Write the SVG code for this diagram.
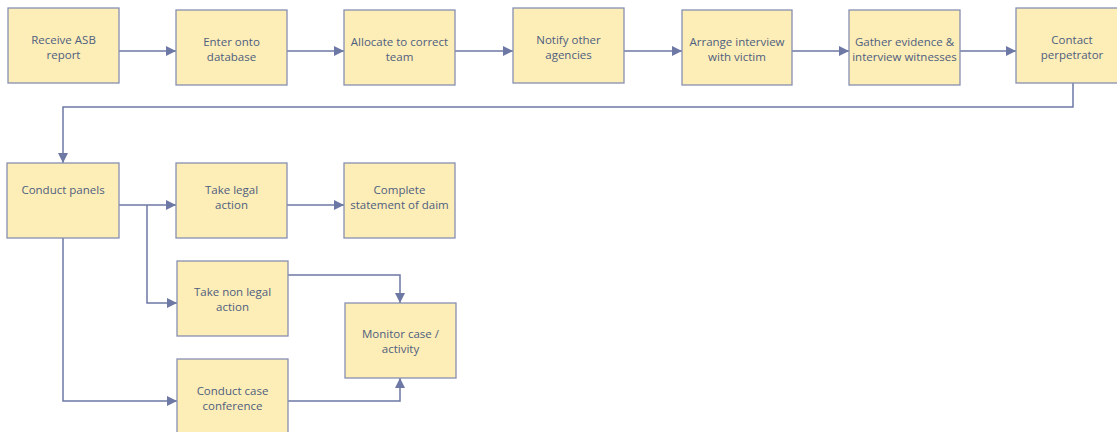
<svg xmlns="http://www.w3.org/2000/svg" width="1117" height="432" viewBox="0 0 1117 432">
<style>
.box{fill:#fdedb6;stroke:#8790b3;stroke-width:1.3}
.t{font-family:"Open Sans","Noto Sans",sans-serif;font-size:11.5px;fill:#4e6080;text-anchor:middle}
.c{fill:none;stroke:#6d78a4;stroke-width:1.5}
</style>
<defs>
<marker id="ah" viewBox="0 0 10 10" refX="10" refY="5" markerWidth="10" markerHeight="10" markerUnits="userSpaceOnUse" orient="auto">
<path d="M0,0 L10,5 L0,10 Z" fill="#6d78a4"/>
</marker>
</defs>
<rect width="1117" height="432" fill="#ffffff"/>
<g id="connectors">
<path class="c" d="M119,51 H176" marker-end="url(#ah)"/>
<path class="c" d="M287,51 H344" marker-end="url(#ah)"/>
<path class="c" d="M455,51 H513" marker-end="url(#ah)"/>
<path class="c" d="M624,51 H682" marker-end="url(#ah)"/>
<path class="c" d="M792,51 H849" marker-end="url(#ah)"/>
<path class="c" d="M960,51 H1016" marker-end="url(#ah)"/>
<path class="c" d="M1073,83 V107 H63 V163" marker-end="url(#ah)"/>
<path class="c" d="M119,205 H176" marker-end="url(#ah)"/>
<path class="c" d="M147,205 V303 H177" marker-end="url(#ah)"/>
<path class="c" d="M287,205 H344" marker-end="url(#ah)"/>
<path class="c" d="M63,238 V401 H177" marker-end="url(#ah)"/>
<path class="c" d="M288,275 H400 V303" marker-end="url(#ah)"/>
<path class="c" d="M288,401 H400 V378" marker-end="url(#ah)"/>
</g>
<g id="n1"><rect class="box" x="8" y="8" width="111" height="75"/><text class="t" x="63.5" y="44">Receive ASB</text><text class="t" x="63.5" y="59">report</text></g>
<g id="n2"><rect class="box" x="176" y="10" width="111" height="75"/><text class="t" x="231.5" y="46">Enter onto</text><text class="t" x="231.5" y="61">database</text></g>
<g id="n3"><rect class="box" x="344" y="10" width="111" height="75"/><text class="t" x="399.5" y="46">Allocate to correct</text><text class="t" x="399.5" y="61">team</text></g>
<g id="n4"><rect class="box" x="513" y="8" width="111" height="75"/><text class="t" x="568.5" y="44">Notify other</text><text class="t" x="568.5" y="59">agencies</text></g>
<g id="n5"><rect class="box" x="682" y="10" width="110" height="75"/><text class="t" x="737" y="46">Arrange interview</text><text class="t" x="737" y="61">with victim</text></g>
<g id="n6"><rect class="box" x="849" y="10" width="111" height="75"/><text class="t" x="904.5" y="46">Gather evidence &amp;</text><text class="t" x="904.5" y="61">interview witnesses</text></g>
<g id="n7"><rect class="box" x="1016" y="8" width="112" height="75"/><text class="t" x="1072" y="44">Contact</text><text class="t" x="1072" y="59">perpetrator</text></g>
<g id="n8"><rect class="box" x="7" y="163" width="112" height="75"/><text class="t" x="63" y="194">Conduct panels</text></g>
<g id="n9"><rect class="box" x="176" y="163" width="111" height="75"/><text class="t" x="231.5" y="194">Take legal</text><text class="t" x="231.5" y="209">action</text></g>
<g id="n10"><rect class="box" x="344" y="163" width="111" height="75"/><text class="t" x="399.5" y="194">Complete</text><text class="t" x="399.5" y="209">statement of daim</text></g>
<g id="n11"><rect class="box" x="177" y="261" width="111" height="75"/><text class="t" x="232.5" y="296">Take non legal</text><text class="t" x="232.5" y="311">action</text></g>
<g id="n12"><rect class="box" x="345" y="303" width="111" height="75"/><text class="t" x="400.5" y="338">Monitor case /</text><text class="t" x="400.5" y="353">activity</text></g>
<g id="n13"><rect class="box" x="177" y="359" width="111" height="76"/><text class="t" x="232.5" y="395">Conduct case</text><text class="t" x="232.5" y="410">conference</text></g>
</svg>
